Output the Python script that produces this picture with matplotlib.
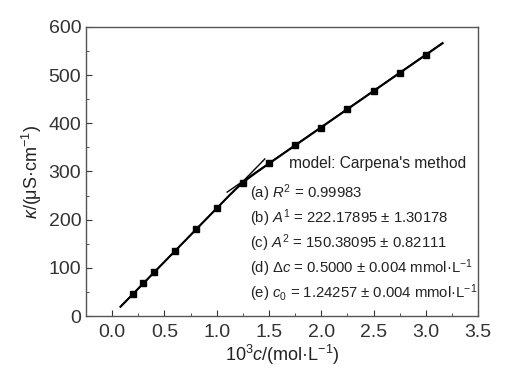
import numpy as np
import matplotlib
matplotlib.use('Agg')
import matplotlib.pyplot as plt
from matplotlib.ticker import MultipleLocator

plt.rcParams['font.family'] = ['Liberation Sans', 'DejaVu Sans']
plt.rcParams['mathtext.fontset'] = 'custom'
plt.rcParams['mathtext.rm'] = 'Liberation Sans'
plt.rcParams['mathtext.it'] = 'Liberation Sans:italic'
plt.rcParams['mathtext.bf'] = 'Liberation Sans:bold'

# measured points
conc = [0.2, 0.3, 0.4, 0.6, 0.8, 1.0, 1.25, 1.5, 1.75, 2.0, 2.25, 2.5, 2.75, 3.0]
kappa = [46, 68, 90.5, 135, 180, 224, 277, 317, 355, 390, 429, 466, 504, 542]

# Carpena fit parameters
F0 = 1.6
A1 = 222.17895
A2 = 150.38095
c0 = 1.24257
dc = 0.05
fit_range = (0.08, 3.16)
tangent1_range = (0.08, 1.46)
tangent2_range = (1.1, 3.16)
B2 = 91.8  # intercept of post-cmc line

labels = [
    r"(a) $R^2$ = 0.99983",
    r"(b) $A^1$ = 222.17895 ± 1.30178",
    r"(c) $A^2$ = 150.38095 ± 0.82111",
    r"(d) $\mathit{\Delta c}$ = 0.5000 ± 0.004 mmol·L$^{-1}$",
    r"(e) $c_0$ = 1.24257 ± 0.004 mmol·L$^{-1}$",
]


def carpena(x):
    return (F0 + A1 * x + dc * (A2 - A1) *
            np.log((1 + np.exp((x - c0) / dc)) / (1 + np.exp(-c0 / dc))))


fig = plt.figure(figsize=(5.18, 3.79), dpi=100)
ax = fig.add_axes([0.166, 0.166, 0.757, 0.763])

xs = np.linspace(fit_range[0], fit_range[1], 400)
ax.plot(xs, carpena(xs), color='black', lw=1.5, zorder=3)
t1 = np.array(tangent1_range)
ax.plot(t1, F0 + A1 * t1, color='black', lw=1.0, zorder=2)
t2 = np.array(tangent2_range)
ax.plot(t2, B2 + A2 * t2, color='black', lw=1.0, zorder=2)
ax.plot(conc, kappa, 's', color='black', ms=4.5, zorder=4)

ax.set_xlim(-0.25, 3.5)
ax.set_ylim(0, 600)
ax.xaxis.set_major_locator(MultipleLocator(0.5))
ax.xaxis.set_minor_locator(MultipleLocator(0.25))
ax.yaxis.set_major_locator(MultipleLocator(100))
ax.yaxis.set_minor_locator(MultipleLocator(50))
ax.xaxis.set_major_formatter(matplotlib.ticker.FormatStrFormatter('%.1f'))
ax.tick_params(which='both', direction='in', labelsize=14, colors='#333333')
ax.tick_params(axis='x', which='major', pad=6)
ax.tick_params(which='major', length=4)
ax.tick_params(which='minor', length=2.5)
for s in ax.spines.values():
    s.set_color('#555555')
    s.set_linewidth(1.0)

ax.set_xlabel(r"10$^3$$c$/(mol·L$^{-1}$)", fontsize=13, labelpad=1, color='#222222')
ax.set_ylabel(r"$\kappa$/(μS·cm$^{-1}$)", fontsize=13, labelpad=3, color='#222222')

ax.text(1.695, 317, "model: Carpena's method", fontsize=11.2, va='center', color='#222222')
for i, lab in enumerate(labels):
    ax.text(1.32, 255 - 52 * i, lab, fontsize=10.7, va='center', color='#222222')

fig.savefig('out.png', dpi=100)
